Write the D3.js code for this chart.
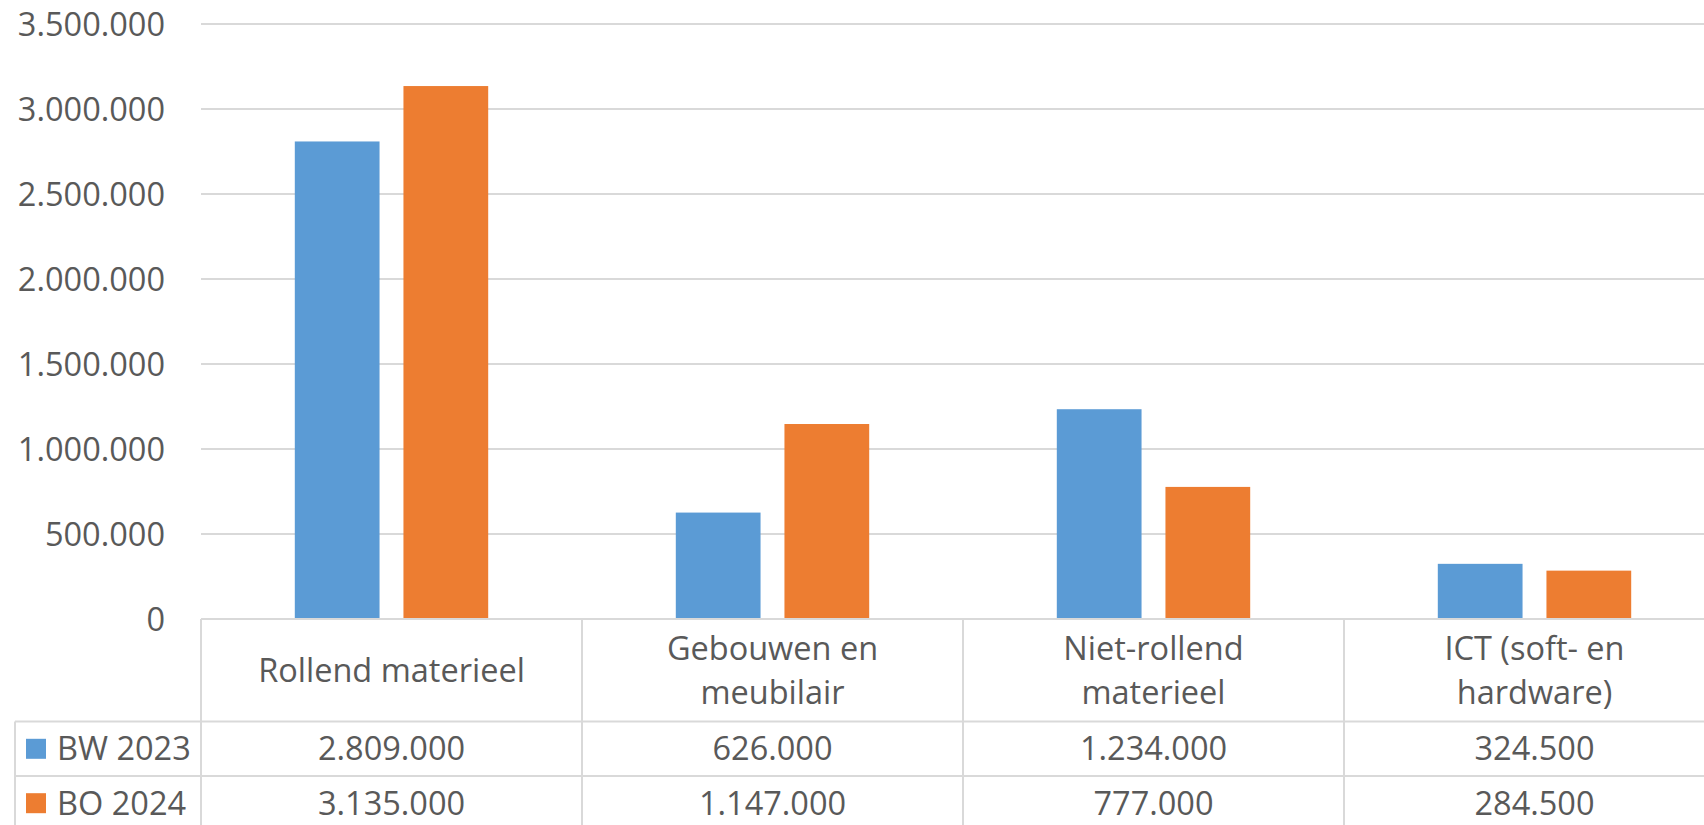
<!DOCTYPE html>
<html>
<head>
<meta charset="utf-8">
<script src="https://cdn.jsdelivr.net/npm/d3@7"></script>
<style>
  body { margin: 0; background: #fff; }
  text { font-family: "Open Sans", sans-serif; fill: #595959; }
</style>
</head>
<body>
<div id="chart"></div>
<script>
const categories = [
    ["Rollend materieel"],
    ["Gebouwen en", "meubilair"],
    ["Niet-rollend", "materieel"],
    ["ICT (soft- en", "hardware)"]
];
const seriesNames = ["BW 2023", "BO 2024"];
const bw2023 = [2809000, 626000, 1234000, 324500];
const bo2024 = [3135000, 1147000, 777000, 284500];
const yTicks = [0, 500000, 1000000, 1500000, 2000000, 2500000, 3000000, 3500000];

const w = 1704;
const h = 825;
const fontSize = 32.5;
const colors = ["#5b9bd5", "#ed7d31"];
const lineColor = "#d9d9d9";

const nl = d3.formatLocale({ decimal: ",", thousands: ".", grouping: [3], currency: ["€", ""] });
const fmt = nl.format(",d");

const svg = d3.select('#chart')
    .append('svg')
    .attr('width', w)
    .attr('height', h)
    .style('background-color', '#fff');

// scales
const plotLeft = 201;
const colW = 381;
const xScale = d3.scaleBand()
    .domain(d3.range(categories.length))
    .range([plotLeft, plotLeft + colW * categories.length])
    .padding(0);

const xSub = d3.scaleBand()
    .domain(d3.range(seriesNames.length))
    .range([-96.7, 96.7])
    .paddingInner(0.22);

const yScale = d3.scaleLinear()
    .domain([0, 3500000])
    .range([619, 24]);

const tableTop = yScale(0);
const rowLine1 = 721.6;
const rowH = 54.4;
const tableLeft = 15;

// gridlines
svg.append('g')
    .selectAll('line')
    .data(yTicks.filter(d => d > 0))
    .enter()
    .append('line')
    .attr('x1', plotLeft)
    .attr('x2', w)
    .attr('y1', d => yScale(d))
    .attr('y2', d => yScale(d))
    .attr('stroke', lineColor)
    .attr('stroke-width', 2);

// y axis
const yAxis = d3.axisLeft(yScale)
    .tickValues(yTicks)
    .tickFormat(fmt)
    .tickSize(0)
    .tickPadding(36);

const yG = svg.append('g')
    .attr('transform', 'translate(' + plotLeft + ',0)')
    .call(yAxis);
yG.select('.domain').remove();
yG.selectAll('text')
    .style('font-size', fontSize + 'px')
    .style('font-family', '"Open Sans", sans-serif')
    .attr('fill', '#595959')
    .attr('dy', '0.35em');

// bars
const series = [bw2023, bo2024];
series.forEach((vals, s) => {
    svg.append('g')
        .selectAll('rect')
        .data(vals)
        .enter()
        .append('rect')
        .attr('x', (d, i) => xScale(i) + xScale.bandwidth() / 2 + xSub(s))
        .attr('y', d => yScale(d))
        .attr('width', xSub.bandwidth())
        .attr('height', d => yScale(0) - yScale(d))
        .attr('fill', colors[s]);
});

// data table lines
const tbl = svg.append('g').attr('stroke', lineColor).attr('stroke-width', 2);
tbl.append('line')
    .attr('x1', plotLeft).attr('x2', w)
    .attr('y1', tableTop).attr('y2', tableTop);
[rowLine1, rowLine1 + rowH].forEach(y => {
    tbl.append('line')
        .attr('x1', tableLeft).attr('x2', w)
        .attr('y1', y).attr('y2', y);
});
tbl.append('line')
    .attr('x1', tableLeft).attr('x2', tableLeft)
    .attr('y1', rowLine1).attr('y2', h);
d3.range(categories.length).forEach(i => {
    tbl.append('line')
        .attr('x1', xScale(i)).attr('x2', xScale(i))
        .attr('y1', tableTop).attr('y2', h);
});

// category labels
const headMid = (tableTop + rowLine1) / 2;
const lineGap = 44;
categories.forEach((lines, i) => {
    const t = svg.append('text')
        .attr('x', xScale(i) + xScale.bandwidth() / 2)
        .attr('text-anchor', 'middle')
        .style('font-size', fontSize + 'px');
    lines.forEach((ln, j) => {
        t.append('tspan')
            .attr('x', xScale(i) + xScale.bandwidth() / 2)
            .attr('y', headMid + (j - (lines.length - 1) / 2) * lineGap)
            .attr('dy', '0.35em')
            .text(ln);
    });
});

// rows: legend key + values
series.forEach((vals, s) => {
    const cy = rowLine1 + rowH * s + rowH / 2;
    svg.append('rect')
        .attr('x', 26)
        .attr('y', cy - 10)
        .attr('width', 20)
        .attr('height', 20)
        .attr('fill', colors[s]);
    svg.append('text')
        .attr('x', 57)
        .attr('y', cy)
        .attr('dy', '0.35em')
        .style('font-size', fontSize + 'px')
        .text(seriesNames[s]);
    svg.append('g')
        .selectAll('text')
        .data(vals)
        .enter()
        .append('text')
        .attr('x', (d, i) => xScale(i) + xScale.bandwidth() / 2)
        .attr('y', cy)
        .attr('dy', '0.35em')
        .attr('text-anchor', 'middle')
        .style('font-size', fontSize + 'px')
        .text(d => fmt(d));
});
</script>
</body>
</html>
